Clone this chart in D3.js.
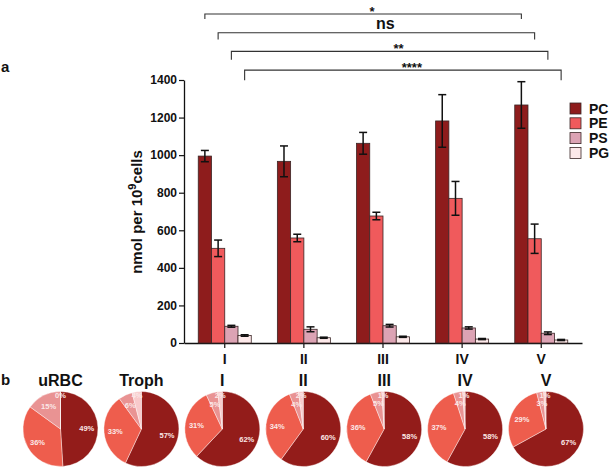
<!DOCTYPE html>
<html><head><meta charset="utf-8">
<script src="https://cdn.jsdelivr.net/npm/d3@7"></script>
<style>
body{margin:0;background:#fff}
text{font-family:"Liberation Sans",Arial,Helvetica,sans-serif;font-weight:bold;fill:#111}
</style>
</head><body><svg id="c" width="615" height="472"></svg>
<script>
// ---- data ----
const groups = ["I","II","III","IV","V"];
const seriesNames = ["PC","PE","PS","PG"];
const pcMean = [995, 967, 1063, 1182, 1267];
const pcErr  = [30, 82, 58, 140, 124];
const peMean = [504, 559, 676, 770, 555];
const peErr  = [44, 20, 20, 90, 78];
const psMean = [89, 73, 92, 80, 52];
const psErr  = [5, 13, 7, 6, 7];
const pgMean = [40, 28, 33, 21, 16];
const pgErr  = [4, 3, 3, 3, 3];
const yTicks = [0, 200, 400, 600, 800, 1000, 1200, 1400];
const compLabels = ["*", "ns", "**", "****"]; // I vs V for PC, PE, PS, PG
const pieNames = ["uRBC","Troph","I","II","III","IV","V"];
const piePC = [49, 57, 62, 60, 58, 58, 67];
const piePE = [36, 33, 31, 34, 36, 37, 29];
const piePS = [15, 6, 5, 4, 5, 4, 3];
const piePG = [0, 4, 2, 2, 1, 1, 1];

const barColors = ["#8e1c1c", "#f05a5c", "#dca3b4", "#fde9ea"];
const pieColors = ["#931c1a", "#ee5d4d", "#e99393", "#f8cacb"];

const means = [pcMean, peMean, psMean, pgMean];
const errs = [pcErr, peErr, psErr, pgErr];

const svg = d3.select("#c");

// ---- panel a ----
const y = d3.scaleLinear().domain([0, 1400]).range([343, 80]);
const x0 = d3.scaleBand().domain(groups).range([184, 582]).paddingInner(0.33).paddingOuter(0.18);
const x1 = d3.scaleBand().domain(seriesNames).range([0, x0.bandwidth()]);

const yAxis = svg.append("g").attr("transform", "translate(184,0)")
  .call(d3.axisLeft(y).tickValues(yTicks).tickFormat(d3.format("d")).tickSize(5).tickSizeOuter(0).tickPadding(2));
yAxis.selectAll("text").style("font-size", "12px");
yAxis.select(".domain").attr("stroke", "#111").attr("stroke-width", 1.3);
yAxis.selectAll(".tick line").attr("stroke", "#111").attr("stroke-width", 1.2);

const xAxis = svg.append("g").attr("transform", "translate(0,343)")
  .call(d3.axisBottom(x0).tickSize(5).tickSizeOuter(0).tickPadding(6));
xAxis.selectAll("text").style("font-size", "14px");
xAxis.select(".domain").attr("stroke", "#111").attr("stroke-width", 1.3);
xAxis.selectAll(".tick line").attr("stroke", "#111").attr("stroke-width", 1.2);

const barData = [];
seriesNames.forEach((s, si) => groups.forEach((g, gi) => {
  barData.push({s, si, g, v: means[si][gi], e: errs[si][gi]});
}));

svg.append("g").selectAll("rect").data(barData).join("rect")
  .attr("x", d => x0(d.g) + x1(d.s))
  .attr("y", d => y(d.v))
  .attr("width", x1.bandwidth())
  .attr("height", d => y(0) - y(d.v))
  .attr("fill", d => barColors[d.si])
  .attr("stroke", "#3a2626").attr("stroke-width", 0.8);

const eb = svg.append("g").attr("stroke", "#111").attr("stroke-width", 1.5);
barData.forEach(d => {
  const cx = x0(d.g) + x1(d.s) + x1.bandwidth() / 2;
  eb.append("line").attr("x1", cx).attr("x2", cx).attr("y1", y(d.v + d.e)).attr("y2", y(d.v - d.e));
  eb.append("line").attr("x1", cx - 4).attr("x2", cx + 4).attr("y1", y(d.v + d.e)).attr("y2", y(d.v + d.e));
  eb.append("line").attr("x1", cx - 4).attr("x2", cx + 4).attr("y1", y(d.v - d.e)).attr("y2", y(d.v - d.e));
});

// y label
svg.append("text")
  .attr("transform", "translate(142,212) rotate(-90)")
  .attr("text-anchor", "middle")
  .style("font-size", "15px")
  .call(t => {
    t.append("tspan").text("nmol per 10");
    t.append("tspan").text("9").attr("dy", -6).style("font-size", "11px");
    t.append("tspan").text("cells").attr("dy", 6);
  });

// legend
const leg = svg.append("g");
seriesNames.forEach((s, i) => {
  leg.append("rect").attr("x", 570).attr("y", 103 + i * 14.8).attr("width", 11).attr("height", 11)
    .attr("fill", barColors[i]).attr("stroke", "#3a2626").attr("stroke-width", 0.8);
  leg.append("text").attr("x", 589).attr("y", 113.5 + i * 14.8).text(s).style("font-size", "14px");
});

// significance brackets
const br = svg.append("g");
compLabels.forEach((lab, i) => {
  const s = seriesNames[i];
  const xa = x0("I") + x1(s) + x1.bandwidth() / 2;
  const xb = x0("V") + x1(s) + x1.bandwidth() / 2;
  const ly = 14 + i * 18.7;
  const drop = 5 + i * 1.7;
  br.append("path").attr("d", `M${xa},${ly + drop}V${ly}H${xb}V${ly + drop}`)
    .attr("fill", "none").attr("stroke", "#333").attr("stroke-width", 1.1);
  const isNs = lab === "ns";
  br.append("text").attr("x", (xa + xb) / 2 + 9).attr("y", isNs ? ly - 4 : ly + 2)
    .attr("text-anchor", "middle").style("font-size", isNs ? "16px" : "13px").text(lab);
});

svg.append("text").attr("x", 1).attr("y", 72).style("font-size", "15px").text("a");
svg.append("text").attr("x", 1).attr("y", 385).style("font-size", "15px").text("b");

// ---- panel b: pies ----
const px = d3.scalePoint().domain(pieNames).range([60.5, 546]);
const pr = 37.5, pcy = 429;
const pie = d3.pie().sort(null).value(d => d.v);
const arc = d3.arc().innerRadius(0).outerRadius(pr);
const labelR = [0.7, 0.7, 0.7, 0.92];

pieNames.forEach((name, pi) => {
  const vals = [piePC[pi], piePE[pi], piePS[pi], piePG[pi]].map((v, i) => ({v, i}));
  const g = svg.append("g").attr("transform", `translate(${px(name)},${pcy})`);
  const arcs = pie(vals);
  g.selectAll("path").data(arcs).join("path")
    .attr("d", arc).attr("fill", d => pieColors[d.data.i])
    .attr("stroke", "#fff").attr("stroke-width", 0.4);
  g.selectAll("text.pl").data(arcs).join("text").attr("class", "pl")
    .attr("x", d => {
      const a = (d.startAngle + d.endAngle) / 2;
      return Math.sin(a) * pr * labelR[d.data.i];
    })
    .attr("y", d => {
      const a = (d.startAngle + d.endAngle) / 2;
      return -Math.cos(a) * pr * labelR[d.data.i] + 3;
    })
    .attr("text-anchor", "middle")
    .style("font-size", "7.5px").style("fill", "#fbe8e8")
    .text(d => d.data.v + "%");
  svg.append("text").attr("x", px(name)).attr("y", 386).attr("text-anchor", "middle")
    .style("font-size", "16px").text(name);
});
</script>
</body></html>
